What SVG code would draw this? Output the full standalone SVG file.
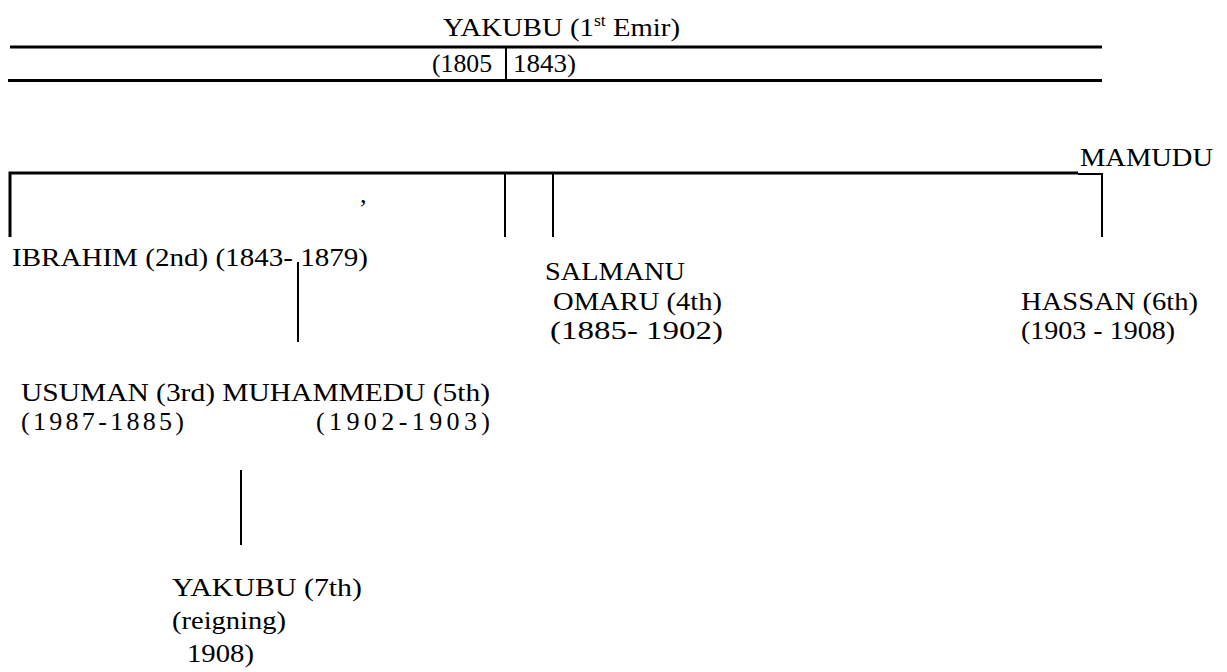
<svg xmlns="http://www.w3.org/2000/svg" width="1227" height="672" viewBox="0 0 1227 672">
<style>
text{font-family:"Liberation Serif","Times New Roman",Times,serif;font-size:26px;fill:#000}
.sup{font-size:16px}
line,polyline{stroke:#000;fill:none}
.thick{stroke-width:3}
.thin{stroke-width:2}
</style>
<rect width="1227" height="672" fill="#fff"/>
<g id="root">
<text x="443" y="36" textLength="237" lengthAdjust="spacingAndGlyphs">YAKUBU (1<tspan class="sup" dy="-10">st</tspan><tspan dy="10"> Emir)</tspan></text>
<text x="432" y="72" textLength="60" lengthAdjust="spacingAndGlyphs">(1805</text>
<text x="513" y="72" textLength="63" lengthAdjust="spacingAndGlyphs">1843)</text>
</g>
<g id="mamudu"><text x="1080" y="166" textLength="133" lengthAdjust="spacingAndGlyphs">MAMUDU</text></g>
<g id="ibrahim"><text x="12" y="266" textLength="356" lengthAdjust="spacingAndGlyphs">IBRAHIM (2nd) (1843- 1879)</text></g>
<g id="comma"><text x="360" y="203">,</text></g>
<g id="salmanu">
<text x="545" y="280" textLength="140" lengthAdjust="spacingAndGlyphs">SALMANU</text>
<text x="553" y="310" textLength="169" lengthAdjust="spacingAndGlyphs">OMARU (4th)</text>
<text x="550" y="339" textLength="173" lengthAdjust="spacingAndGlyphs">(1885- 1902)</text>
</g>
<g id="hassan">
<text x="1021" y="310" textLength="177" lengthAdjust="spacingAndGlyphs">HASSAN (6th)</text>
<text x="1021" y="339" textLength="154" lengthAdjust="spacingAndGlyphs">(1903 - 1908)</text>
</g>
<g id="usuman">
<text x="21" y="401" textLength="469" lengthAdjust="spacingAndGlyphs">USUMAN (3rd) MUHAMMEDU (5th)</text>
<text x="21" y="430" textLength="163" lengthAdjust="spacing">(1987-1885)</text>
<text x="316" y="430" textLength="174" lengthAdjust="spacing">(1902-1903)</text>
</g>
<g id="yakubu7">
<text x="172" y="596" textLength="190" lengthAdjust="spacingAndGlyphs">YAKUBU (7th)</text>
<text x="172" y="629" textLength="114" lengthAdjust="spacingAndGlyphs">(reigning)</text>
<text x="187" y="662" textLength="67" lengthAdjust="spacingAndGlyphs">1908)</text>
</g>
<g id="connectors">
<line class="thick" x1="10" y1="47" x2="1102" y2="47"/>
<line class="thick" x1="8" y1="80.5" x2="1102" y2="80.5"/>
<line class="thin" x1="506" y1="48" x2="506" y2="80"/>
<polyline class="thick" points="10,237 10,173 1078,173"/>
<polyline class="thin" points="1078,174 1102,174 1102,237"/>
<line class="thin" x1="505" y1="173" x2="505" y2="237"/>
<line class="thin" x1="553" y1="173" x2="553" y2="237"/>
<line class="thin" x1="298" y1="262" x2="298" y2="342"/>
<line class="thin" x1="241" y1="470" x2="241" y2="545"/>
</g>
</svg>
